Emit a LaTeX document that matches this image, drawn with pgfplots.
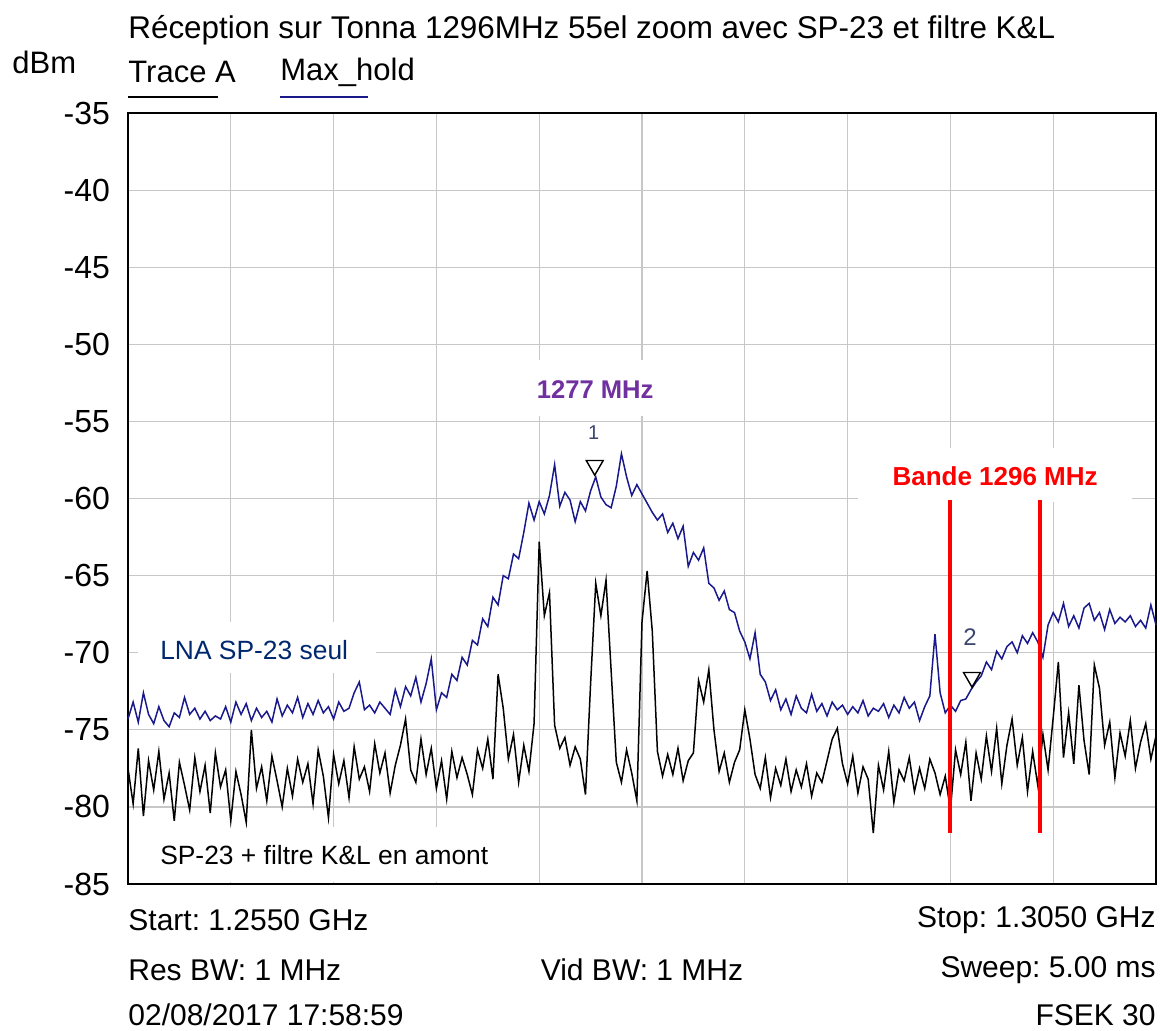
\documentclass[border=0pt]{standalone}
\usepackage{fontspec}
\setmainfont{Liberation Sans}
\usepackage{pgfplots}
\pgfplotsset{compat=1.18}
\usepackage{pgfplotstable}
\frenchspacing
\definecolor{trblue}{RGB}{25,25,140}
\definecolor{lnablue}{RGB}{0,40,110}
\definecolor{purp}{RGB}{112,48,160}
\definecolor{mkgray}{RGB}{60,70,110}

% i = sweep point (0..200 over 1.2550..1.3050 GHz), b = Max_hold (LNA SP-23 seul), k = Trace A (SP-23 + filtre K&L)
\pgfplotstableread{
i b k
0 -74.3 -77.5
1 -73.2 -79.8
2 -74.5 -76.2
3 -72.6 -80.6
4 -74.0 -77.0
5 -74.6 -78.9
6 -73.5 -76.4
7 -74.4 -79.5
8 -74.8 -77.8
9 -73.9 -80.9
10 -74.2 -77.1
11 -72.9 -78.6
12 -74.0 -80.2
13 -73.6 -76.8
14 -74.3 -79.0
15 -73.8 -77.3
16 -74.4 -80.4
17 -74.1 -76.5
18 -74.3 -78.7
19 -73.5 -77.6
20 -74.5 -80.9
21 -73.2 -77.7
22 -74.0 -79.2
23 -73.3 -81.0
24 -74.4 -75.0
25 -73.6 -78.8
26 -74.2 -77.4
27 -73.8 -79.6
28 -74.5 -76.7
29 -73.0 -78.3
30 -74.1 -80.0
31 -73.4 -77.5
32 -73.9 -79.3
33 -72.9 -76.9
34 -74.2 -78.4
35 -73.3 -77.2
36 -74.0 -79.8
37 -73.1 -76.3
38 -73.9 -78.0
39 -73.5 -80.7
40 -74.3 -76.6
41 -73.2 -78.5
42 -73.8 -77.0
43 -73.6 -79.4
44 -72.6 -76.1
45 -71.9 -78.2
46 -73.7 -77.4
47 -73.4 -79.0
48 -73.9 -75.9
49 -73.2 -77.8
50 -73.6 -76.5
51 -74.0 -79.1
52 -72.4 -77.3
53 -73.5 -76.0
54 -72.2 -74.3
55 -72.8 -77.6
56 -71.6 -78.4
57 -73.2 -75.6
58 -72.0 -77.9
59 -70.4 -76.2
60 -73.7 -78.8
61 -72.6 -77.0
62 -72.9 -79.5
63 -71.4 -76.4
64 -71.8 -78.1
65 -70.3 -76.8
66 -70.8 -77.9
67 -69.2 -79.2
68 -69.5 -76.3
69 -67.8 -77.5
70 -68.3 -75.6
71 -66.4 -78.2
72 -66.9 -71.4
73 -65.0 -73.6
74 -65.2 -76.9
75 -63.6 -75.3
76 -63.9 -78.4
77 -62.2 -76.0
78 -60.3 -77.7
79 -61.4 -74.6
80 -60.2 -62.8
81 -61.0 -67.6
82 -59.8 -66.1
83 -57.8 -74.7
84 -60.5 -76.2
85 -59.6 -75.5
86 -60.1 -77.3
87 -61.5 -76.1
88 -60.2 -76.9
89 -60.8 -79.2
90 -59.5 -72.0
91 -58.6 -65.5
92 -59.9 -67.6
93 -60.4 -65.3
94 -60.6 -71.2
95 -59.2 -77.1
96 -57.1 -78.4
97 -58.6 -76.3
98 -59.8 -77.8
99 -59.1 -79.6
100 -59.7 -68.0
101 -60.3 -64.7
102 -60.9 -68.6
103 -61.4 -76.4
104 -61.0 -78.0
105 -62.2 -76.6
106 -61.6 -77.9
107 -62.6 -76.2
108 -61.8 -78.3
109 -64.4 -77.0
110 -63.5 -76.5
111 -64.0 -71.8
112 -63.2 -73.2
113 -65.5 -71.1
114 -65.8 -75.0
115 -66.6 -77.7
116 -66.0 -76.5
117 -67.2 -78.4
118 -67.4 -77.1
119 -68.6 -76.3
120 -69.3 -73.7
121 -70.4 -75.6
122 -68.7 -77.9
123 -71.4 -78.8
124 -71.9 -76.8
125 -73.1 -79.4
126 -72.4 -77.5
127 -73.7 -78.6
128 -73.0 -76.9
129 -74.0 -79.0
130 -72.8 -77.6
131 -73.6 -78.7
132 -73.9 -77.2
133 -72.7 -79.3
134 -73.8 -77.8
135 -73.3 -78.4
136 -74.1 -77.0
137 -73.2 -75.6
138 -73.7 -74.9
139 -73.4 -77.2
140 -74.0 -78.5
141 -73.5 -76.7
142 -73.9 -79.1
143 -73.1 -77.4
144 -74.1 -78.2
145 -73.6 -81.7
146 -73.8 -77.3
147 -73.3 -78.9
148 -74.2 -76.4
149 -73.4 -79.7
150 -73.9 -77.6
151 -72.9 -78.3
152 -73.6 -76.8
153 -73.2 -79.0
154 -74.4 -77.5
155 -73.5 -78.8
156 -72.8 -76.9
157 -68.8 -77.8
158 -72.6 -79.2
159 -73.9 -78.0
160 -73.4 -80.2
161 -73.8 -76.3
162 -73.1 -77.9
163 -73.0 -75.8
164 -72.4 -79.6
165 -71.9 -76.5
166 -71.5 -78.2
167 -70.6 -75.4
168 -71.1 -77.7
169 -69.9 -74.9
170 -70.4 -78.5
171 -69.6 -76.0
172 -69.3 -74.3
173 -70.0 -77.3
174 -68.9 -75.5
175 -69.4 -79.0
176 -68.7 -76.4
177 -69.3 -78.6
178 -70.3 -75.3
179 -68.2 -77.6
180 -67.4 -74.2
181 -68.0 -70.6
182 -66.8 -76.8
183 -68.3 -73.9
184 -67.6 -77.2
185 -68.4 -72.1
186 -67.1 -75.7
187 -66.8 -77.9
188 -67.9 -70.8
189 -67.4 -72.3
190 -68.5 -76.0
191 -67.2 -74.5
192 -68.1 -78.1
193 -67.7 -75.2
194 -68.0 -76.7
195 -67.6 -74.4
196 -68.3 -77.5
197 -67.9 -75.8
198 -68.4 -74.6
199 -66.9 -76.9
200 -68.2 -75.4
}\spec

\begin{document}
\begin{tikzpicture}
\path[use as bounding box] (0,-515pt) rectangle (580pt,0);
% header texts
\node[anchor=west, inner sep=0pt, font=\fontsize{15.7}{16}\selectfont] at (64pt,-15pt) {Réception sur Tonna 1296MHz 55el zoom avec SP-23 et filtre K\&L};
\node[anchor=west, inner sep=0pt, font=\fontsize{15.5}{16}\selectfont] at (6pt,-31pt) {dBm};
\node[anchor=west, inner sep=0pt, font=\fontsize{15.5}{16}\selectfont] at (64pt,-36pt) {Trace A};
\node[anchor=west, inner sep=0pt, font=\fontsize{15.5}{16}\selectfont] at (140pt,-36pt) {Max\_hold};
\draw[black, line width=0.7pt] (64pt,-48.5pt) -- (109pt,-48.5pt);
\draw[trblue, line width=0.7pt] (140pt,-48.5pt) -- (184pt,-48.5pt);
% footer texts
\begin{scope}[every node/.style={inner sep=0pt, font=\fontsize{15}{16}\selectfont}]
\node[anchor=west] at (64pt,-460pt) {Start: 1.2550 GHz};
\node[anchor=east] at (578pt,-460pt) {Stop: 1.3050 GHz};
\node[anchor=west] at (64pt,-485pt) {Res BW: 1 MHz};
\node[anchor=center] at (321pt,-485pt) {Vid BW: 1 MHz};
\node[anchor=east] at (578pt,-485pt) {Sweep: 5.00 ms};
\node[anchor=west] at (64pt,-507.5pt) {02/08/2017 17:58:59};
\node[anchor=east] at (578pt,-507.5pt) {FSEK 30};
\end{scope}

\begin{axis}[
  at={(64pt,-442pt)}, anchor=south west,
  scale only axis, width=514pt, height=385.5pt,
  xmin=0, xmax=200, ymin=-85, ymax=-35,
  xtick={0,20,...,200}, xticklabels={},
  ytick={-85,-80,-75,-70,-65,-60,-55,-50,-45,-40,-35},
  yticklabels={-85,-80,-75,-70,-65,-60,-55,-50,-45,-40,-35},
  yticklabel style={font=\fontsize{16}{16}\selectfont, xshift=-5.5pt},
  major tick length=0pt,
  grid=major,
  grid style={color=black!22, line width=0.6pt},
  axis line style={line width=1.3pt},
  clip=false,
]
% white label boxes over the grid
\fill[white] (axis cs:74.3,-51.0) rectangle (axis cs:107.4,-54.65);
\fill[white] (axis cs:142.0,-56.7) rectangle (axis cs:195.3,-60.25);
\fill[white] (axis cs:1.9,-68.0) rectangle (axis cs:48.3,-71.3);
\fill[white] (axis cs:1.9,-81.3) rectangle (axis cs:76.3,-84.85);

\addplot[black, line width=0.75pt] table[x=i, y=k] {\spec};
\addplot[trblue, line width=0.75pt] table[x=i, y=b] {\spec};

% markers
\addplot[only marks, mark=triangle, mark size=4.9pt, mark options={rotate=180, fill=white, draw=black, line width=0.7pt}] coordinates {(90.8,-57.85) (164.2,-71.6)};
\node[text=mkgray, font=\fontsize{10}{10}\selectfont] at (axis cs:90.6,-55.7) {1};
\node[text=mkgray, font=\fontsize{12}{12}\selectfont] at (axis cs:163.8,-69.0) {2};

% band edges
\addplot[red, line width=2.1pt] coordinates {(159.9,-60.1) (159.9,-81.7)};
\addplot[red, line width=2.1pt] coordinates {(177.4,-60.1) (177.4,-81.7)};

% annotations
\node[text=purp, font=\bfseries\fontsize{12.8}{13}\selectfont] at (axis cs:90.9,-52.96) {1277 MHz};
\node[text=red, font=\bfseries\fontsize{13}{13}\selectfont] at (axis cs:168.7,-58.54) {Bande 1296 MHz};
\node[text=lnablue, anchor=west, inner sep=0pt, font=\fontsize{13.2}{13}\selectfont] at (axis cs:6.2,-69.8) {LNA SP-23 seul};
\node[text=black, anchor=west, inner sep=0pt, font=\fontsize{13.2}{13}\selectfont] at (axis cs:6.2,-83.1) {SP-23 + filtre K\&L en amont};
\end{axis}
\end{tikzpicture}
\end{document}
